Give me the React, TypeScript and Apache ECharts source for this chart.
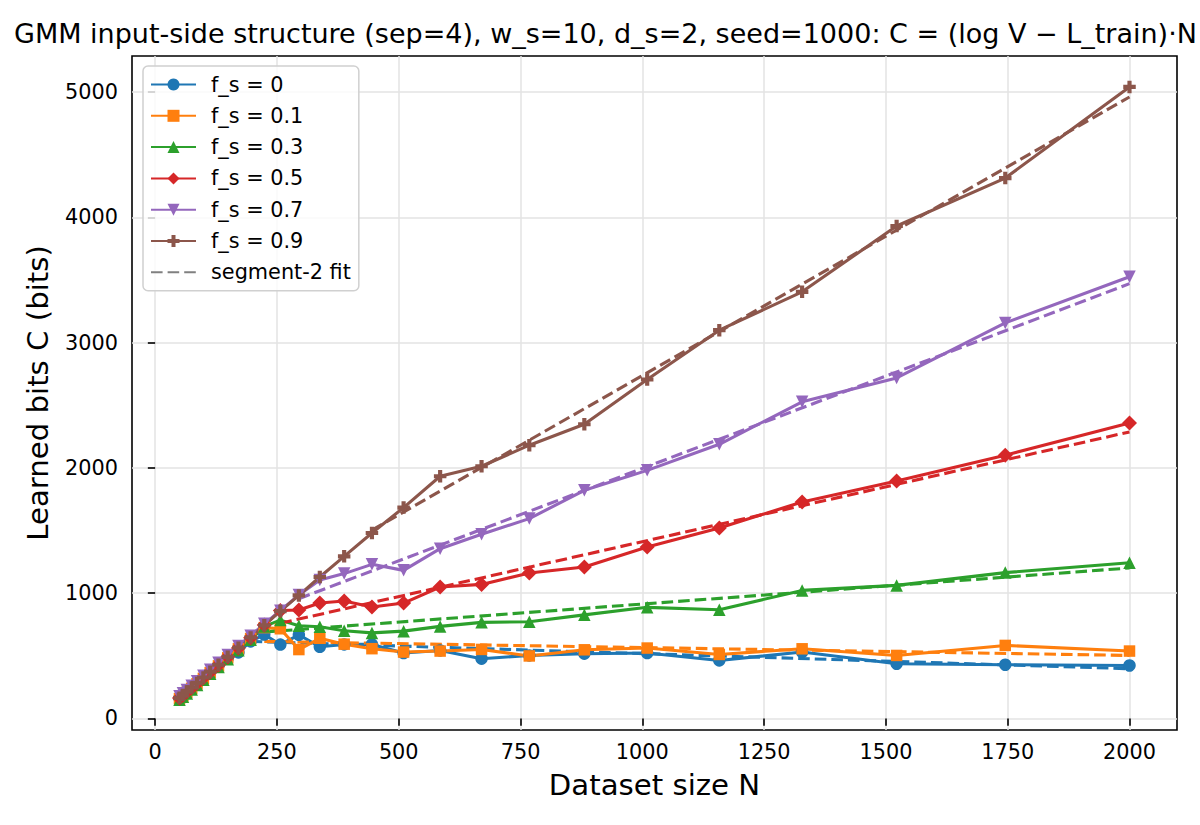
import React, { useEffect, useRef } from "react";
import * as echarts from "echarts";

// Dataset sizes N (shared by every series)
const N = [50, 57, 65, 75, 86, 99, 113, 130, 149, 171, 196, 224, 257, 295, 338, 388, 445, 510, 585, 670, 768, 881, 1010, 1158, 1328, 1522, 1745, 2000];

// Learned bits C per f_s
const C_fs0 = [160, 184, 210, 243, 279, 322, 368, 422, 480, 527, 615, 670, 590, 668, 572, 591, 591, 522, 543, 477, 503, 517, 522, 463, 530, 437, 429, 423];
const C_fs01 = [158, 182, 208, 241, 277, 320, 366, 420, 484, 556, 638, 725, 716, 550, 640, 593, 557, 530, 538, 551, 499, 548, 562, 511, 556, 503, 583, 538];
const C_fs03 = [150, 173, 200, 232, 268, 310, 356, 410, 472, 545, 628, 735, 785, 740, 732, 700, 683, 697, 735, 767, 772, 827, 887, 868, 1022, 1062, 1164, 1243];
const C_fs05 = [163, 186, 213, 246, 282, 325, 371, 427, 490, 563, 645, 745, 862, 866, 921, 937, 889, 921, 1049, 1070, 1161, 1209, 1368, 1520, 1728, 1896, 2101, 2359];
const C_fs07 = [177, 201, 228, 262, 298, 341, 388, 444, 507, 578, 660, 755, 860, 985, 1105, 1156, 1230, 1182, 1355, 1470, 1595, 1821, 1980, 2188, 2527, 2718, 3157, 3525];
const C_fs09 = [165, 188, 215, 248, 284, 327, 373, 429, 492, 565, 647, 743, 857, 982, 1129, 1294, 1480, 1683, 1933, 2013, 2181, 2348, 2705, 3099, 3405, 3930, 4313, 5040];

// Segment-2 linear fits: [N, C] at the start of the segment and at N = 2000
const FIT_fs0 = [[196, 615], [2000, 397]];
const FIT_fs01 = [[224, 615], [2000, 503]];
const FIT_fs03 = [[224, 690], [2000, 1201]];
const FIT_fs05 = [[257, 760], [2000, 2287]];
const FIT_fs07 = [[295, 956], [2000, 3470]];
const FIT_fs09 = [[445, 1503], [2000, 4960]];

const LABELS = ["f_s = 0", "f_s = 0.1", "f_s = 0.3", "f_s = 0.5", "f_s = 0.7", "f_s = 0.9"];
const X_TICKS = [0, 250, 500, 750, 1000, 1250, 1500, 1750, 2000];
const Y_TICKS = [0, 1000, 2000, 3000, 4000, 5000];

const TITLE = "GMM input-side structure (sep=4), w_s=10, d_s=2, seed=1000: C = (log V \u2212 L_train)\u00b7N";

const COLORS = ["#1f77b4", "#ff7f0e", "#2ca02c", "#d62728", "#9467bd", "#8c564b"];
const MARKERS = ["circle", "rect", "triangle", "diamond", "triangle", "path://M1,0H2V1H3V2H2V3H1V2H0V1H1Z"];
const MARKER_ROT = [0, 0, 0, 0, 180, 0];
const MARKER_SIZE = [12.5, 11.5, 12.5, 15, 12.5, 12.5];
const FONT = "DejaVu Sans";
const DASH = [11.6, 5];

export default function App() {
  const ref = useRef<HTMLDivElement>(null);
  useEffect(() => {
    if (!ref.current) return;
    const chart = echarts.init(ref.current, undefined, { renderer: "svg" });
    const curves = [C_fs0, C_fs01, C_fs03, C_fs05, C_fs07, C_fs09];
    const fits = [FIT_fs0, FIT_fs01, FIT_fs03, FIT_fs05, FIT_fs07, FIT_fs09];
    const series: any[] = [];
    curves.forEach((ys, i) => {
      series.push({
        type: "line",
        name: LABELS[i],
        data: N.map((n, j) => [n, ys[j]]),
        symbol: MARKERS[i],
        symbolSize: MARKER_SIZE[i],
        symbolRotate: MARKER_ROT[i],
        showAllSymbol: true,
        lineStyle: { color: COLORS[i], width: 3.1 },
        itemStyle: { color: COLORS[i] },
        emphasis: { disabled: true },
      });
      series.push({
        type: "line",
        name: "fit " + LABELS[i],
        data: fits[i],
        symbol: "none",
        lineStyle: { color: COLORS[i], width: 3.1, type: DASH },
        itemStyle: { color: COLORS[i] },
        emphasis: { disabled: true },
      });
    });
    series.push({
      type: "line",
      name: "segment-2 fit",
      data: [],
      symbol: "none",
      lineStyle: { color: "#808080", width: 3.1, type: DASH },
      itemStyle: { color: "#808080" },
    });

    chart.setOption({
      animation: false,
      title: {
        text: TITLE,
        left: 14,
        top: 20,
        padding: 0,
        textStyle: { fontFamily: FONT, fontSize: 27, fontWeight: "normal", color: "#000" },
      },
      legend: {
        orient: "vertical",
        left: 143,
        top: 66,
        data: [
          ...LABELS.map((name) => ({ name })),
          { name: "segment-2 fit", itemStyle: { opacity: 0 } },
        ],
        itemWidth: 45,
        itemHeight: 15,
        itemGap: 10.3,
        padding: [8, 8, 8, 7],
        backgroundColor: "rgba(255,255,255,0.8)",
        borderColor: "#d0d0d0",
        borderWidth: 1.5,
        borderRadius: 5,
        selectedMode: false,
        textStyle: { fontFamily: FONT, fontSize: 20.8, color: "#000", lineHeight: 21, padding: [0, 0, 0, 10] },
      },
      grid: {
        left: 132,
        top: 56,
        width: 1045,
        height: 674,
        show: true,
        borderColor: "#000",
        borderWidth: 1.6,
        backgroundColor: "transparent",
      },
      xAxis: {
        type: "value",
        min: -47.5,
        max: 2097.5,
        name: "Dataset size N",
        nameLocation: "middle",
        nameGap: 40,
        nameTextStyle: { fontFamily: FONT, fontSize: 29.2, color: "#000" },
        axisLine: { show: false },
        axisTick: { show: true, length: 7.3, lineStyle: { color: "#000", width: 1.6 }, customValues: X_TICKS },
        axisLabel: {
          fontFamily: FONT,
          fontSize: 20.8,
          color: "#000",
          margin: 11,
          customValues: X_TICKS,
          formatter: (v: number) => String(v),
        },
        splitLine: { show: true, lineStyle: { color: "#e3e3e3", width: 1.5 } },
      },
      yAxis: {
        type: "value",
        min: -92,
        max: 5287,
        name: "Learned bits C (bits)",
        nameLocation: "middle",
        nameGap: 80,
        nameTextStyle: { fontFamily: FONT, fontSize: 29.2, color: "#000" },
        axisLine: { show: false },
        axisTick: { show: true, length: 7.3, lineStyle: { color: "#000", width: 1.6 }, customValues: Y_TICKS },
        axisLabel: {
          fontFamily: FONT,
          fontSize: 20.8,
          color: "#000",
          margin: 14,
          customValues: Y_TICKS,
          formatter: (v: number) => String(v),
        },
        splitLine: { show: true, lineStyle: { color: "#e3e3e3", width: 1.5 } },
      },
      series,
    });
    return () => chart.dispose();
  }, []);
  return (
    <div
      ref={ref}
      style={{ position: "fixed", left: 0, top: 0, width: 1200, height: 825, background: "#fff" }}
    />
  );
}
